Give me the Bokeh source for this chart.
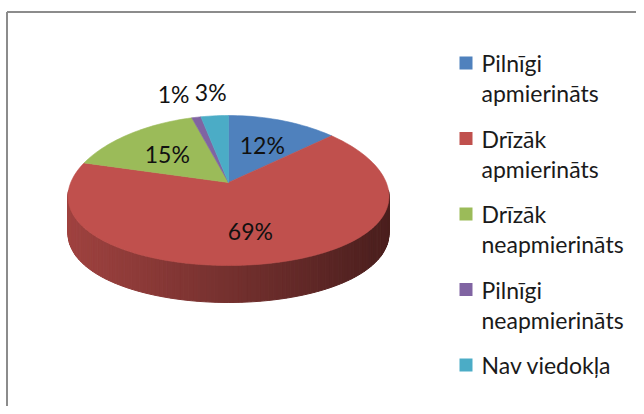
import numpy as np
from bokeh.plotting import figure
from bokeh.models import Range1d
from bokeh.core.properties import value
from bokeh.embed import file_html
from bokeh.resources import INLINE

# ---- data ----
categories = ["Pilnīgi apmierināts", "Drīzāk apmierināts", "Drīzāk neapmierināts",
              "Pilnīgi neapmierināts", "Nav viedokļa"]
shares = [12, 69, 15, 1, 3]
colors = ["#4f81bd", "#c0504d", "#9bbb59", "#8064a2", "#4bacc6"]

# ---- layout constants (pixels) ----
W, H = 636, 406
CX, CY = 228.0, 190.0
RX, RY = 160.0, 75.0
DEPTH = 37.0
K = 0.08          # pseudo perspective
LIFT = 8.0        # apex lift
FONT = "Lato"
FS = 23

p = figure(width=W, height=H, x_range=Range1d(0, W), y_range=Range1d(H, 0),
           output_backend="svg", toolbar_location=None, min_border=0,
           x_axis_location=None, y_axis_location=None)
p.grid.visible = False
p.outline_line_color = None
p.background_fill_color = "white"
p.border_fill_color = "white"

# chart-area border (top and left visible)
p.line([6.5, W], [11.5, 11.5], line_color="#8c8c8c", line_width=2)
p.line([6.5, 6.5], [11.5, H], line_color="#8c8c8c", line_width=2)


def proj(theta, r=1.0, dz=0.0):
    theta = np.asarray(theta, dtype=float)
    u, v = np.sin(theta), np.cos(theta)
    x = CX + RX * r * u * (1 - K * v * r)
    y = CY - RY * r * v + dz - LIFT * max(0.0, 1 - r)
    return x, y


total = float(sum(shares))
fr = np.array(shares) / total
edges = np.concatenate([[0.0], np.cumsum(fr)]) * 2 * np.pi


def slice_of(theta):
    for i in range(len(shares)):
        if edges[i] <= theta < edges[i + 1]:
            return i
    return len(shares) - 1


def shade(hexcol, f):
    h = hexcol.lstrip("#")
    r, g, b = (int(h[i:i + 2], 16) for i in (0, 2, 4))
    return "#%02x%02x%02x" % (int(r * f), int(g * f), int(b * f))


# ---- side (front half) with gradient ----
N = 120
ts = np.linspace(np.pi / 2, 3 * np.pi / 2, N + 1)
sx, sy, sc = [], [], []
for a, b in zip(ts[:-1], ts[1:]):
    x0, y0 = proj(a)
    x1, y1 = proj(b)
    xm = 0.5 * (x0 + x1)
    f = 0.83 - 0.44 * (xm - (CX - RX)) / (2 * RX)
    col = shade(colors[slice_of(0.5 * (a + b))], f)
    sx.append([float(x0), float(x1), float(x1), float(x0)])
    sy.append([float(y0), float(y1), float(y1) + DEPTH, float(y0) + DEPTH])
    sc.append(col)
p.patches(sx, sy, fill_color=sc, line_color=sc, line_width=1)

# ---- top faces ----
ax, ay = proj(0.0, r=0.0)
tx, ty = [], []
for i in range(len(shares)):
    th = np.linspace(edges[i], edges[i + 1], max(3, int(200 * fr[i]) + 2))
    x, y = proj(th)
    tx.append([float(ax)] + [float(t) for t in x])
    ty.append([float(ay)] + [float(t) for t in y])
p.patches(tx, ty, fill_color=colors, line_color=colors, line_width=0.6)

# ---- data labels ----
lab = [f"{s}%" for s in shares]
mids = 0.5 * (edges[:-1] + edges[1:])
lx, ly = [], []
for i in range(len(shares)):
    r = 0.6 if fr[i] >= 0.05 else 1.32
    x, y = proj(mids[i], r=r)
    lx.append(float(x)); ly.append(float(y))


def est_w(t):
    return FS * (0.55 * (len(t) - 1) + 0.8)


outside = sorted([i for i in range(len(shares)) if fr[i] < 0.05], key=lambda i: -lx[i])
for j in range(1, len(outside)):
    a, b = outside[j - 1], outside[j]
    lim = lx[a] - (est_w(lab[a]) / 2 + est_w(lab[b]) / 2 + 6)
    if lx[b] > lim:
        lx[b] = lim

p.text(lx, ly, text=lab, text_font=value(FONT), text_font_size=f"{FS}px",
       text_align="center", text_baseline="middle", text_color="#111111")

# ---- legend ----
LX, LY0, STEP, LINE = 459, 56, 75.5, 30
sqx, sqy, gx, gy, gt = [], [], [], [], []
for i, name in enumerate(categories):
    top = LY0 + STEP * i
    sqx.append(LX + 6.5); sqy.append(top + 6.5)
    lines = name.split(" ", 1) if len(name) > 12 else [name]
    for k, ln in enumerate(lines):
        gx.append(LX + 22); gy.append(top + 6.5 + LINE * k); gt.append(ln)
p.rect(sqx, sqy, width=13, height=13, fill_color=colors, line_color=None)
p.text(gx, gy, text=gt, text_font=value(FONT), text_font_size=f"{FS}px",
       text_align="left", text_baseline="middle", text_color="#1a1a1a")

open("out.html", "w").write(file_html(p, INLINE))
